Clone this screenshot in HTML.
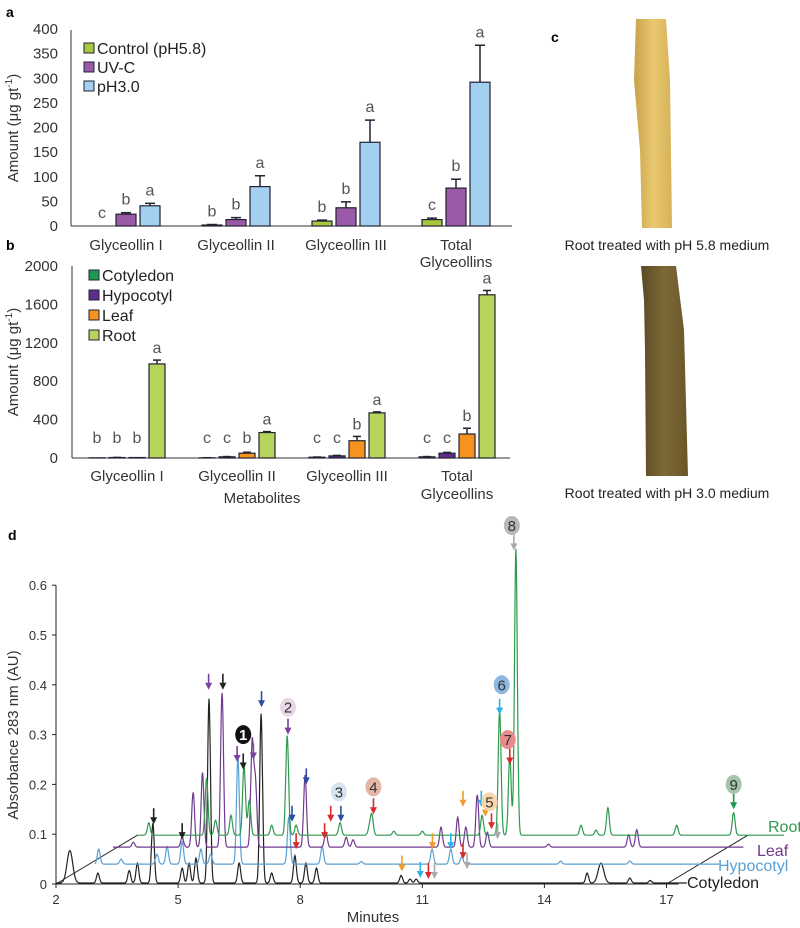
<!DOCTYPE html>
<html><head><meta charset="utf-8"><style>
html,body{margin:0;padding:0;background:#fff;}
svg{display:block;font-family:"Liberation Sans",sans-serif;}
</style></head><body>
<svg id="fig" width="800" height="928" viewBox="0 0 800 928" xmlns="http://www.w3.org/2000/svg">
<defs>
<linearGradient id="g1" x1="0" x2="1"><stop offset="0" stop-color="#c9a24a"/><stop offset="0.5" stop-color="#e8c870"/><stop offset="1" stop-color="#d7b35a"/></linearGradient>
<linearGradient id="g2" x1="0" x2="1"><stop offset="0" stop-color="#5a4a25"/><stop offset="0.5" stop-color="#7d6a38"/><stop offset="1" stop-color="#6a5528"/></linearGradient>
</defs>
<g id="panelA"></g>
<g id="panelB"></g>
<g id="panelC">
 <text x="551" y="42" font-size="14" font-weight="bold">c</text>
 <polygon points="636,19 666,19 670,80 672,228 642,228 640,150 634,80" fill="url(#g1)"/>
 <text x="667" y="250" font-size="14" text-anchor="middle" fill="#222">Root treated with pH 5.8 medium</text>
 <polygon points="641,266 676,266 684,330 688,476 646,476 645,350 644,300" fill="url(#g2)"/>
 <text x="667" y="498" font-size="14" text-anchor="middle" fill="#222">Root treated with pH 3.0 medium</text>
</g>
<g id="panelD"></g>
</svg>
<script>
// ---------- Panel a data ----------
const aCategories = ["Glyceollin I","Glyceollin II","Glyceollin III","Total|Glyceollins"];
const aControl = [0,2,10,13];
const aUVC = [24,13,37,77];
const aPH3 = [41,80,170,292];
const aControlErr = [0,1,2,3];
const aUVCErr = [3,4,12,18];
const aPH3Err = [5,22,45,75];
const aControlLet = ["c","b","b","c"];
const aUVCLet = ["b","b","b","b"];
const aPH3Let = ["a","a","a","a"];
const aTicks = [0,50,100,150,200,250,300,350,400];
// ---------- Panel b data ----------
const bCategories = ["Glyceollin I","Glyceollin II","Glyceollin III","Total|Glyceollins"];
const bCotyledon = [2,2,8,12];
const bHypocotyl = [5,12,22,50];
const bLeaf = [5,50,180,250];
const bRoot = [980,265,470,1700];
const bCotErr = [0,1,2,3];
const bHypErr = [1,3,5,8];
const bLeafErr = [0,10,45,60];
const bRootErr = [40,10,10,45];
const bCotLet = ["b","c","c","c"];
const bHypLet = ["b","c","c","c"];
const bLeafLet = ["b","b","b","b"];
const bRootLet = ["a","a","a","a"];
const bTicks = [0,400,800,1200,1600,2000];
// ---------- Panel d data ----------
const dXTicks = [2,5,8,11,14,17];
const dYTicks = [0,0.1,0.2,0.3,0.4,0.5,0.6];
const cotTimes = [2.34,3.03,3.8,4.0,4.38,5.1,5.27,5.44,5.76,6.5,7.04,7.3,7.87,8.14,8.4,10.48,10.7,10.85,15.05,15.39,16.1,16.6];
const cotHeights = [0.065,0.02,0.025,0.04,0.12,0.03,0.04,0.05,0.37,0.04,0.34,0.02,0.055,0.04,0.03,0.015,0.008,0.008,0.02,0.04,0.01,0.005];
const hypTimes = [3.05,3.6,4.48,4.73,5.1,5.56,5.8,6.47,7.72,8.54,9.5,11.24,11.7,11.97,14.4,16.1];
const hypHeights = [0.03,0.01,0.02,0.035,0.045,0.03,0.02,0.215,0.095,0.035,0.005,0.03,0.03,0.015,0.006,0.006];
const leafTimes = [3.9,5.1,5.37,5.6,6.08,6.82,6.9,8.12,8.63,9.13,9.3,11.46,11.87,12.07,12.35,12.6,14.1,16.07,16.27];
const leafHeights = [0.01,0.02,0.11,0.15,0.31,0.21,0.13,0.145,0.03,0.02,0.015,0.04,0.06,0.04,0.105,0.03,0.006,0.025,0.035];
const rootTimes = [4.28,5.7,5.92,6.3,6.62,6.75,7.3,7.68,7.9,8.98,9.7,9.76,10.3,11.0,12.47,12.9,13.15,13.3,14.9,15.27,15.56,17.25,18.65];
const rootHeights = [0.025,0.115,0.03,0.04,0.14,0.07,0.02,0.2,0.02,0.025,0.015,0.04,0.008,0.008,0.04,0.25,0.16,0.575,0.02,0.01,0.055,0.02,0.045];
const traceNames = ["Cotyledon","Hypocotyl","Leaf","Root"];
const traceBase = [0.002,0.04,0.074,0.098];
const traceStart = [2,2.95,3.4,4.0];
const traceEnd = [17.5,18.3,18.9,19.9];
const traceColors = ["#222","#5a9fd4","#6f3a8f","#2f9a4e"];
// arrows: time, AU level (arrow tip), colour
const arrowTimes = [5.75,6.1,7.05,6.45,6.6,6.85,7.7,8.15,7.8,8.75,9.0,9.8,4.4,5.1,7.9,8.6,12.0,12.45,12.55,12.7,12.85,11.25,11.7,12.0,12.1,10.5,10.95,11.15,11.3,12.9,13.15,13.25,18.65];
const arrowLevels = [0.39,0.39,0.355,0.245,0.23,0.25,0.3,0.2,0.125,0.125,0.125,0.14,0.12,0.09,0.07,0.09,0.155,0.155,0.135,0.11,0.09,0.07,0.07,0.05,0.03,0.025,0.012,0.01,0.01,0.34,0.24,0.67,0.15];
const arrowColors = ["#7b3f9e","#222","#2b4fa0","#7b3f9e","#222","#7b3f9e","#7b3f9e","#2b4fa0","#2b4fa0","#d62c2c","#2b4fa0","#d62c2c","#222","#222","#d62c2c","#d62c2c","#f39a2a","#2ab5e6","#f39a2a","#d62c2c","#aaa","#f39a2a","#2ab5e6","#d62c2c","#aaa","#f39a2a","#2ab5e6","#d62c2c","#aaa","#2ab5e6","#d62c2c","#aaa","#1a9a50"];
const markerLabels = ["1","2","3","4","5","6","7","8","9"];
const markerTimes = [6.6,7.7,8.95,9.8,12.65,12.95,13.1,13.2,18.65];
const markerLevels = [0.3,0.355,0.185,0.195,0.165,0.4,0.29,0.72,0.2];
const markerFills = ["#111","#ead7e6","#d6e4f2","#e6b4a8","#f8d6ae","#8fb8e0","#e88b8b","#b8b8b8","#a8c4a8"];
const markerText = ["#fff","#333","#333","#333","#333","#333","#333","#333","#333"];

const NS="http://www.w3.org/2000/svg";
function el(tag,attrs,parent,text){const e=document.createElementNS(NS,tag);for(const k in attrs)e.setAttribute(k,attrs[k]);if(text!==undefined)e.textContent=text;parent.appendChild(e);return e;}

// ---------- Panel a ----------
const pa=document.getElementById('panelA');
const Ya=v=>226-v*197/400;
const aGroupX=[126,236,346,456];
let t=el('text',{x:6,y:17,'font-size':14,'font-weight':'bold'},pa,'a');


aTicks.forEach(v=>{const tk=el('text',{x:58,y:Ya(v)+5,'font-size':15,'text-anchor':'end',fill:'#333'},pa,String(v));

});
t=el('text',{x:0,y:0,'font-size':15,'text-anchor':'middle',fill:'#333',transform:'translate(18,128) rotate(-90)'},pa,'Amount (μg gt');
el('tspan',{'font-size':10,dy:-6},t,'-1');el('tspan',{dy:6},t,')');


let ln=el('line',{x1:71,y1:30,x2:71,y2:226,stroke:'#333','stroke-width':1},pa);


ln=el('line',{x1:71,y1:226,x2:512,y2:226,stroke:'#333','stroke-width':1},pa);


const aSeries=[[aControl,aControlErr,aControlLet,'#a6c83c',-24,'control'],[aUVC,aUVCErr,aUVCLet,'#9b5aa8',0,'uvc'],[aPH3,aPH3Err,aPH3Let,'#a3d0f0',24,'ph3']];
aSeries.forEach(s=>{s[0].forEach((v,i)=>{const cx=aGroupX[i]+s[4];
 const r=el('rect',{x:cx-10,y:Ya(v),width:20,height:226-Ya(v),fill:s[3],stroke:'#223',"stroke-width":1.2},pa);
 
 
 const top=Ya(v+s[1][i]);
 if(s[1][i]>0){el('line',{x1:cx,y1:Ya(v),x2:cx,y2:top,stroke:'#223','stroke-width':1.5},pa);el('line',{x1:cx-5,y1:top,x2:cx+5,y2:top,stroke:'#223','stroke-width':1.5},pa);}
 const lt=el('text',{x:cx,y:top-8,'font-size':16,'text-anchor':'middle',fill:'#555'},pa,s[2][i]);
 
 
});});
aCategories.forEach((c,i)=>{const p=c.split('|');p.forEach((q,j)=>{const ct=el('text',{x:aGroupX[i],y:250+j*17,'font-size':15,'text-anchor':'middle',fill:'#333'},pa,q);

});});
[['Control (pH5.8)','#a6c83c'],['UV-C','#9b5aa8'],['pH3.0','#a3d0f0']].forEach((l,i)=>{const y=48+i*19;
 const g=el('g',{},pa);
 
 
 el('rect',{x:84,y:y-5,width:10,height:10,fill:l[1],stroke:'#223'},g);
 el('text',{x:97,y:y+6,'font-size':16,fill:'#222'},g,l[0]);});

// ---------- Panel b ----------
const pb=document.getElementById('panelB');
const Yb=v=>458-v*192/2000;
const bGroupX=[127,237,347,457];
t=el('text',{x:6,y:250,'font-size':14,'font-weight':'bold'},pb,'b');


bTicks.forEach(v=>{const tk=el('text',{x:58,y:Yb(v)+5,'font-size':15,'text-anchor':'end',fill:'#333'},pb,String(v));

});
t=el('text',{x:0,y:0,'font-size':15,'text-anchor':'middle',fill:'#333',transform:'translate(18,362) rotate(-90)'},pb,'Amount (μg gt');
el('tspan',{'font-size':10,dy:-6},t,'-1');el('tspan',{dy:6},t,')');


ln=el('line',{x1:72,y1:266,x2:72,y2:458,stroke:'#333'},pb);


ln=el('line',{x1:72,y1:458,x2:510,y2:458,stroke:'#333'},pb);


const bSeries=[[bCotyledon,bCotErr,bCotLet,'#1e9a4f',-30,'cotyledon'],[bHypocotyl,bHypErr,bHypLet,'#5c2c8e',-10,'hypocotyl'],[bLeaf,bLeafErr,bLeafLet,'#f5931e',10,'leaf'],[bRoot,bRootErr,bRootLet,'#b6d35a',30,'root']];
bSeries.forEach(s=>{s[0].forEach((v,i)=>{const cx=bGroupX[i]+s[4];
 const r=el('rect',{x:cx-8,y:Yb(v),width:16,height:458-Yb(v),fill:s[3],stroke:'#223','stroke-width':1.2},pb);
 
 
 const top=Yb(v+s[1][i]);
 if(s[1][i]>0){el('line',{x1:cx,y1:Yb(v),x2:cx,y2:top,stroke:'#223','stroke-width':1.5},pb);el('line',{x1:cx-4,y1:top,x2:cx+4,y2:top,stroke:'#223','stroke-width':1.5},pb);}
 const lt=el('text',{x:cx,y:Math.min(top,450)-7,'font-size':16,'text-anchor':'middle',fill:'#555'},pb,s[2][i]);
 
 
});});
bCategories.forEach((c,i)=>{const p=c.split('|');p.forEach((q,j)=>{const ct=el('text',{x:bGroupX[i],y:481+j*18,'font-size':15,'text-anchor':'middle',fill:'#333'},pb,q);

});});
t=el('text',{x:262,y:503,'font-size':15,'text-anchor':'middle',fill:'#333'},pb,'Metabolites');


[['Cotyledon','#1e9a4f'],['Hypocotyl','#5c2c8e'],['Leaf','#f5931e'],['Root','#b6d35a']].forEach((l,i)=>{const y=275+i*20;
 const g=el('g',{},pb);
 
 
 el('rect',{x:89,y:y-5,width:10,height:10,fill:l[1],stroke:'#223'},g);
 el('text',{x:102,y:y+6,'font-size':16,fill:'#222'},g,l[0]);});

// ---------- Panel d ----------
const pd=document.getElementById('panelD');
const X=m=>56+(m-2)*40.7;
const Y=v=>884-v*498;
t=el('text',{x:8,y:540,'font-size':14,'font-weight':'bold'},pd,'d');


ln=el('line',{x1:X(2),y1:Y(0.6),x2:X(2),y2:Y(0),stroke:'#222'},pd);


ln=el('line',{x1:X(2),y1:Y(0),x2:X(17.3),y2:Y(0),stroke:'#222'},pd);


dYTicks.forEach(v=>{el('line',{x1:X(2)-4,y1:Y(v),x2:X(2),y2:Y(v),stroke:'#222'},pd);
 const tk=el('text',{x:X(2)-9,y:Y(v)+5,'font-size':13,'text-anchor':'end',fill:'#333'},pd,v===0?'0':v.toFixed(1));
 
 });
dXTicks.forEach(v=>{el('line',{x1:X(v),y1:Y(0),x2:X(v),y2:Y(0)+4,stroke:'#222'},pd);
 const tk=el('text',{x:X(v),y:Y(0)+20,'font-size':13,'text-anchor':'middle',fill:'#333'},pd,String(v));
 
 });
t=el('text',{x:373,y:922,'font-size':15,'text-anchor':'middle',fill:'#333'},pd,'Minutes');


t=el('text',{x:0,y:0,'font-size':15,'text-anchor':'middle',fill:'#333',transform:'translate(18,735) rotate(-90)'},pd,'Absorbance 283 nm (AU)');


// perspective diagonals
ln=el('line',{x1:X(2),y1:Y(0),x2:X(4.0),y2:Y(0.098),stroke:'#222'},pd);


ln=el('line',{x1:X(17),y1:Y(0),x2:X(19.0),y2:Y(0.098),stroke:'#222'},pd);


const traceT=[cotTimes,hypTimes,leafTimes,rootTimes];
const traceH=[cotHeights,hypHeights,leafHeights,rootHeights];
for(let k=0;k<4;k++){
 let pts=[];
 for(let m=traceStart[k];m<=traceEnd[k];m+=0.01){
  let v=traceBase[k];
  traceT[k].forEach((pt,i)=>{const w=(pt<3||(k===0&&pt>15.3&&pt<15.5))?0.07:0.035;v+=traceH[k][i]*Math.exp(-((m-pt)*(m-pt))/(2*w*w));});
  pts.push(X(m).toFixed(1)+','+Y(v).toFixed(1));
 }
 const pl=el('polyline',{points:pts.join(' '),fill:'none',stroke:traceColors[k],'stroke-width':1.2},pd);
 
 
}
const tlab=[[687,888],[718,871],[757,856],[768,832]];
traceNames.forEach((n,k)=>{const tl=el('text',{x:tlab[k][0],y:tlab[k][1],'font-size':16,fill:traceColors[k]},pd,n);
 
 });
arrowTimes.forEach((m,i)=>{const x=X(m),y=Y(arrowLevels[i]);const c=arrowColors[i];
 const g=el('g',{},pd);
 
 
 el('line',{x1:x,y1:y-16,x2:x,y2:y-5,stroke:c,'stroke-width':1.6},g);
 el('polygon',{points:`${x-3.5},${y-7} ${x+3.5},${y-7} ${x},${y}`,fill:c},g);});
markerLabels.forEach((s,i)=>{const x=X(markerTimes[i]),y=Y(markerLevels[i]);
 const g=el('g',{},pd);
 
 
 el('ellipse',{cx:x,cy:y,rx:8,ry:9.5,fill:markerFills[i]},g);
 el('text',{x:x,y:y+5.5,'font-size':15,'text-anchor':'middle',fill:markerText[i],'font-weight':i===0?'bold':'normal'},g,s);});
</script>
</body></html>
